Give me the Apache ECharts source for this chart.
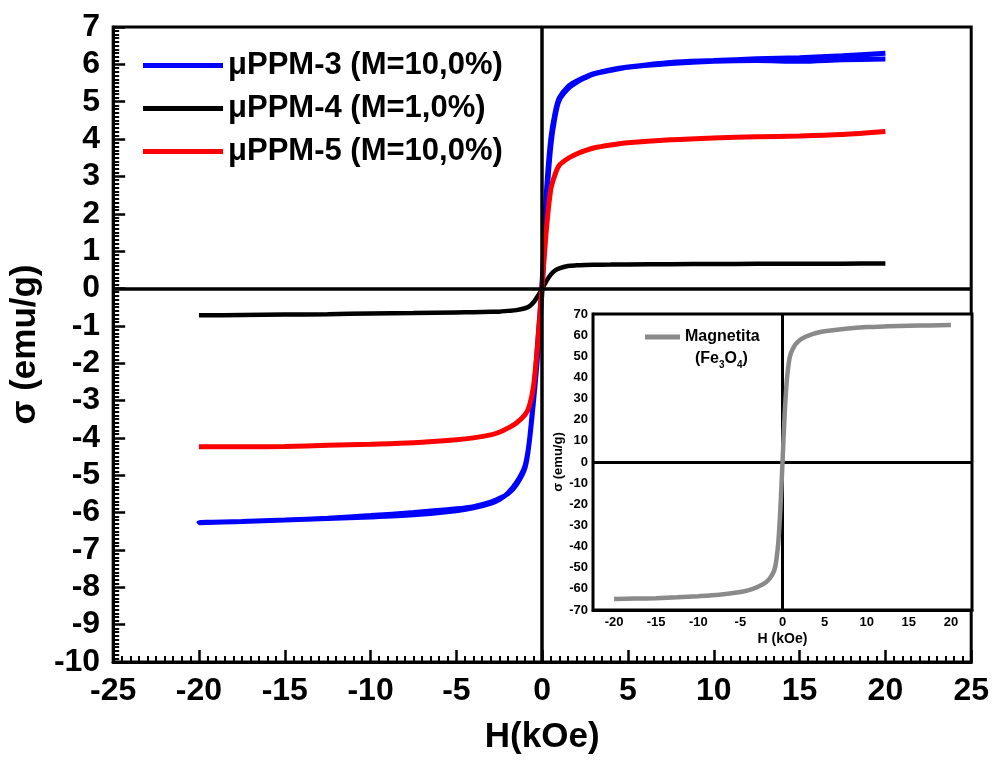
<!DOCTYPE html>
<html>
<head>
<meta charset="utf-8">
<script src="https://cdn.jsdelivr.net/npm/echarts@6/dist/echarts.min.js"></script>
<style>html,body{margin:0;padding:0;background:#fff}#c{width:992px;height:760px}</style>
</head>
<body>
<div id="c"></div>
<script>
// ---- data ----
const H = [-20,-17.5,-15,-12.5,-10,-7.5,-5,-4,-3,-2.5,-2,-1.5,-1,-0.75,-0.5,-0.25,0,0.25,0.5,0.75,1,1.5,2,2.5,3,4,5,7.5,10,12.5,15,17.5,20];
const Hdown = [20,17.5,15,12.5,10,7.5,5,4,3,2.5,2,1.5,1,0.75,0.5,0.25,0,-0.25,-0.5,-0.75,-1,-1.5,-2,-2.5,-3,-4,-5,-7.5,-10,-12.5,-15,-17.5,-20];
const ppm3Down = [6.14,6.12,6.08,6.1,6.08,6.02,5.92,5.84,5.74,5.64,5.52,5.35,5.05,4.6,3.8,2.3,0.0,-1.7,-3.0,-4.1,-4.8,-5.25,-5.5,-5.62,-5.72,-5.84,-5.9,-6.0,-6.08,-6.15,-6.2,-6.24,-6.27];
const ppm3Up = [-6.28,-6.24,-6.2,-6.16,-6.12,-6.06,-5.95,-5.87,-5.75,-5.65,-5.48,-5.2,-4.75,-4.1,-2.9,-1.4,0.2,2.6,4.0,4.7,5.1,5.4,5.55,5.66,5.75,5.86,5.93,6.05,6.1,6.15,6.18,6.23,6.3];
const ppm4 = [-0.72,-0.71,-0.7,-0.69,-0.67,-0.66,-0.64,-0.635,-0.625,-0.62,-0.6,-0.58,-0.53,-0.48,-0.37,-0.2,0,0.2,0.37,0.48,0.54,0.6,0.62,0.63,0.635,0.64,0.645,0.65,0.655,0.66,0.66,0.665,0.67];
const ppm5 = [-4.24,-4.24,-4.23,-4.2,-4.17,-4.13,-4.05,-4.0,-3.92,-3.85,-3.74,-3.6,-3.38,-3.15,-2.6,-1.4,0.1,1.6,2.65,3.05,3.3,3.48,3.6,3.69,3.76,3.84,3.9,3.98,4.03,4.06,4.08,4.12,4.2];
const magnetita = [-64.8,-64.6,-64.4,-64,-63.5,-62.8,-61.5,-60.6,-59.2,-58.2,-57,-55,-51.5,-47,-38,-22,0,22,38,47,51.5,55.5,57.5,58.8,59.7,61,61.8,63,63.8,64.2,64.5,64.6,64.8];
const names = ['\u03bcPPM-3 (M=10,0%)','\u03bcPPM-4 (M=1,0%)','\u03bcPPM-5 (M=10,0%)'];
const insetXTicks = [-20,-15,-10,-5,0,5,10,15,20];
const insetXMinor = [];
for (let v = -22.5; v <= 22.5001; v += 0.5) insetXMinor.push(+v.toFixed(1));

const pair = (xs, ys) => xs.map((x, i) => [x, ys[i]]);
const FF = '"Liberation Sans", Arial, sans-serif';
const chart = echarts.init(document.getElementById('c'), null, {renderer: 'canvas'});

const mainAxisCommon = {
  axisLine: {show: true, onZero: false, lineStyle: {color: '#000', width: 3}},
  axisTick: {show: true, inside: true, length: 12, lineStyle: {color: '#000', width: 2.5}},
  minorTick: {show: true, splitNumber: 10, length: 6, lineStyle: {color: '#000', width: 2}},
  splitLine: {show: false},
  axisLabel: {color: '#000', fontSize: 32, fontWeight: 'bold', fontFamily: FF, margin: 13}
};
const insetAxisCommon = {
  axisLine: {show: true, onZero: false, lineStyle: {color: '#000', width: 3}},
  axisTick: {show: true, inside: true, length: 6, lineStyle: {color: '#000', width: 1.5}},
  splitLine: {show: false},
  axisLabel: {color: '#000', fontSize: 13, fontWeight: 'bold', fontFamily: FF, margin: 5}
};

const option = {
  animation: false,
  backgroundColor: '#fff',
  textStyle: {fontFamily: FF},
  grid: [
    {left: 108, right: 20, top: 27, bottom: 98, show: true, borderColor: '#000', borderWidth: 3, containLabel: false},
    {left: 593, right: 20, top: 314, bottom: 150, show: true, backgroundColor: '#fff', borderColor: '#000', borderWidth: 3, containLabel: false, z: 5}
  ],
  legend: [
    {
      data: names, orient: 'vertical', left: 143, top: 50, padding: 0,
      icon: 'rect', itemWidth: 80, itemHeight: 5, itemGap: 12,
      textStyle: {color: '#000', fontSize: 31, fontWeight: 'bold', fontFamily: FF, lineHeight: 30}
    },
    {
      data: ['Magnetita'], orient: 'vertical', left: 645, top: 307, padding: 0, z: 10,
      icon: 'rect', itemWidth: 35, itemHeight: 5,
      formatter: () => '{e| }\n{a|Magnetita}\n{p|(Fe}{s|3}{b|O}{s|4}{b|)}',
      textStyle: {
        color: '#000', fontFamily: FF,
        rich: {
          e: {fontSize: 16, lineHeight: 22},
          a: {fontSize: 16, fontWeight: 'bold', lineHeight: 22, fontFamily: FF, color: '#000'},
          p: {fontSize: 16, fontWeight: 'bold', lineHeight: 22, fontFamily: FF, color: '#000', padding: [0, 0, 0, 10]},
          b: {fontSize: 16, fontWeight: 'bold', lineHeight: 22, fontFamily: FF, color: '#000'},
          s: {fontSize: 10, fontWeight: 'bold', lineHeight: 14, verticalAlign: 'bottom', fontFamily: FF, color: '#000'}
        }
      }
    }
  ],
  xAxis: [
    Object.assign({}, mainAxisCommon, {
      type: 'value', gridIndex: 0, min: -25, max: 25, interval: 5,
      name: 'H(kOe)', nameLocation: 'middle', nameGap: 58,
      nameTextStyle: {color: '#000', fontSize: 35, fontWeight: 'bold', fontFamily: FF}
    }),
    Object.assign({}, insetAxisCommon, {
      type: 'value', gridIndex: 1, min: -22.5, max: 22.5,
      axisTick: {show: true, inside: true, length: 6, customValues: insetXTicks, lineStyle: {color: '#000', width: 1.5}},
      axisLabel: {color: '#000', fontSize: 13, fontWeight: 'bold', fontFamily: FF, margin: 6, customValues: insetXTicks},
      name: 'H (kOe)', nameLocation: 'middle', nameGap: 22,
      nameTextStyle: {color: '#000', fontSize: 14, fontWeight: 'bold', fontFamily: FF}
    }),
    {
      type: 'value', gridIndex: 1, min: -22.5, max: 22.5, position: 'bottom',
      axisLine: {show: false}, splitLine: {show: false},
      axisLabel: {show: false},
      axisTick: {show: true, inside: true, length: 3, customValues: insetXMinor, lineStyle: {color: '#000', width: 1.2}}
    }
  ],
  yAxis: [
    Object.assign({}, mainAxisCommon, {
      type: 'value', gridIndex: 0, min: -10, max: 7, interval: 1,
      name: '\u03c3 (emu/g)', nameLocation: 'middle', nameGap: 62,
      nameTextStyle: {color: '#000', fontSize: 35, fontWeight: 'bold', fontFamily: FF}
    }),
    Object.assign({}, insetAxisCommon, {
      type: 'value', gridIndex: 1, min: -70, max: 70, interval: 10,
      minorTick: {show: true, splitNumber: 10, length: 3, lineStyle: {color: '#000', width: 1.2}},
      name: '\u03c3 (emu/g)', nameLocation: 'middle', nameGap: 26,
      nameTextStyle: {color: '#000', fontSize: 13, fontWeight: 'bold', fontFamily: FF}
    })
  ],
  series: [
    {
      type: 'line', name: 'zeroMain', xAxisIndex: 0, yAxisIndex: 0, data: [], z: 1, silent: true,
      markLine: {silent: true, symbol: ['none', 'none'], label: {show: false}, animation: false,
        lineStyle: {color: '#000', width: 3.5, type: 'solid'}, emphasis: {disabled: true},
        data: [{xAxis: 0}, {yAxis: 0}]}
    },
    {
      type: 'line', name: names[0], xAxisIndex: 0, yAxisIndex: 0, z: 3,
      data: pair(Hdown, ppm3Down).concat(pair(H, ppm3Up)),
      showSymbol: false, smooth: 0.3, color: '#0000ff', lineStyle: {width: 5, color: '#0000ff'}
    },
    {
      type: 'line', name: names[1], xAxisIndex: 0, yAxisIndex: 0, z: 3,
      data: pair(H, ppm4),
      showSymbol: false, smooth: 0.3, color: '#000000', lineStyle: {width: 4.5, color: '#000000'}
    },
    {
      type: 'line', name: names[2], xAxisIndex: 0, yAxisIndex: 0, z: 3,
      data: pair(H, ppm5),
      showSymbol: false, smooth: 0.3, color: '#ff0000', lineStyle: {width: 5, color: '#ff0000'}
    },
    {
      type: 'line', name: 'zeroInset', xAxisIndex: 1, yAxisIndex: 1, data: [], z: 6, silent: true,
      markLine: {silent: true, symbol: ['none', 'none'], label: {show: false}, animation: false,
        lineStyle: {color: '#000', width: 3, type: 'solid'}, emphasis: {disabled: true},
        data: [{xAxis: 0}, {yAxis: 0}]}
    },
    {
      type: 'line', name: 'Magnetita', xAxisIndex: 1, yAxisIndex: 1, z: 7,
      data: pair(H, magnetita),
      showSymbol: false, smooth: 0.3, color: '#8a8a8a', lineStyle: {width: 4.5, color: '#8a8a8a'}
    }
  ]
};
chart.setOption(option);
</script>
</body>
</html>
